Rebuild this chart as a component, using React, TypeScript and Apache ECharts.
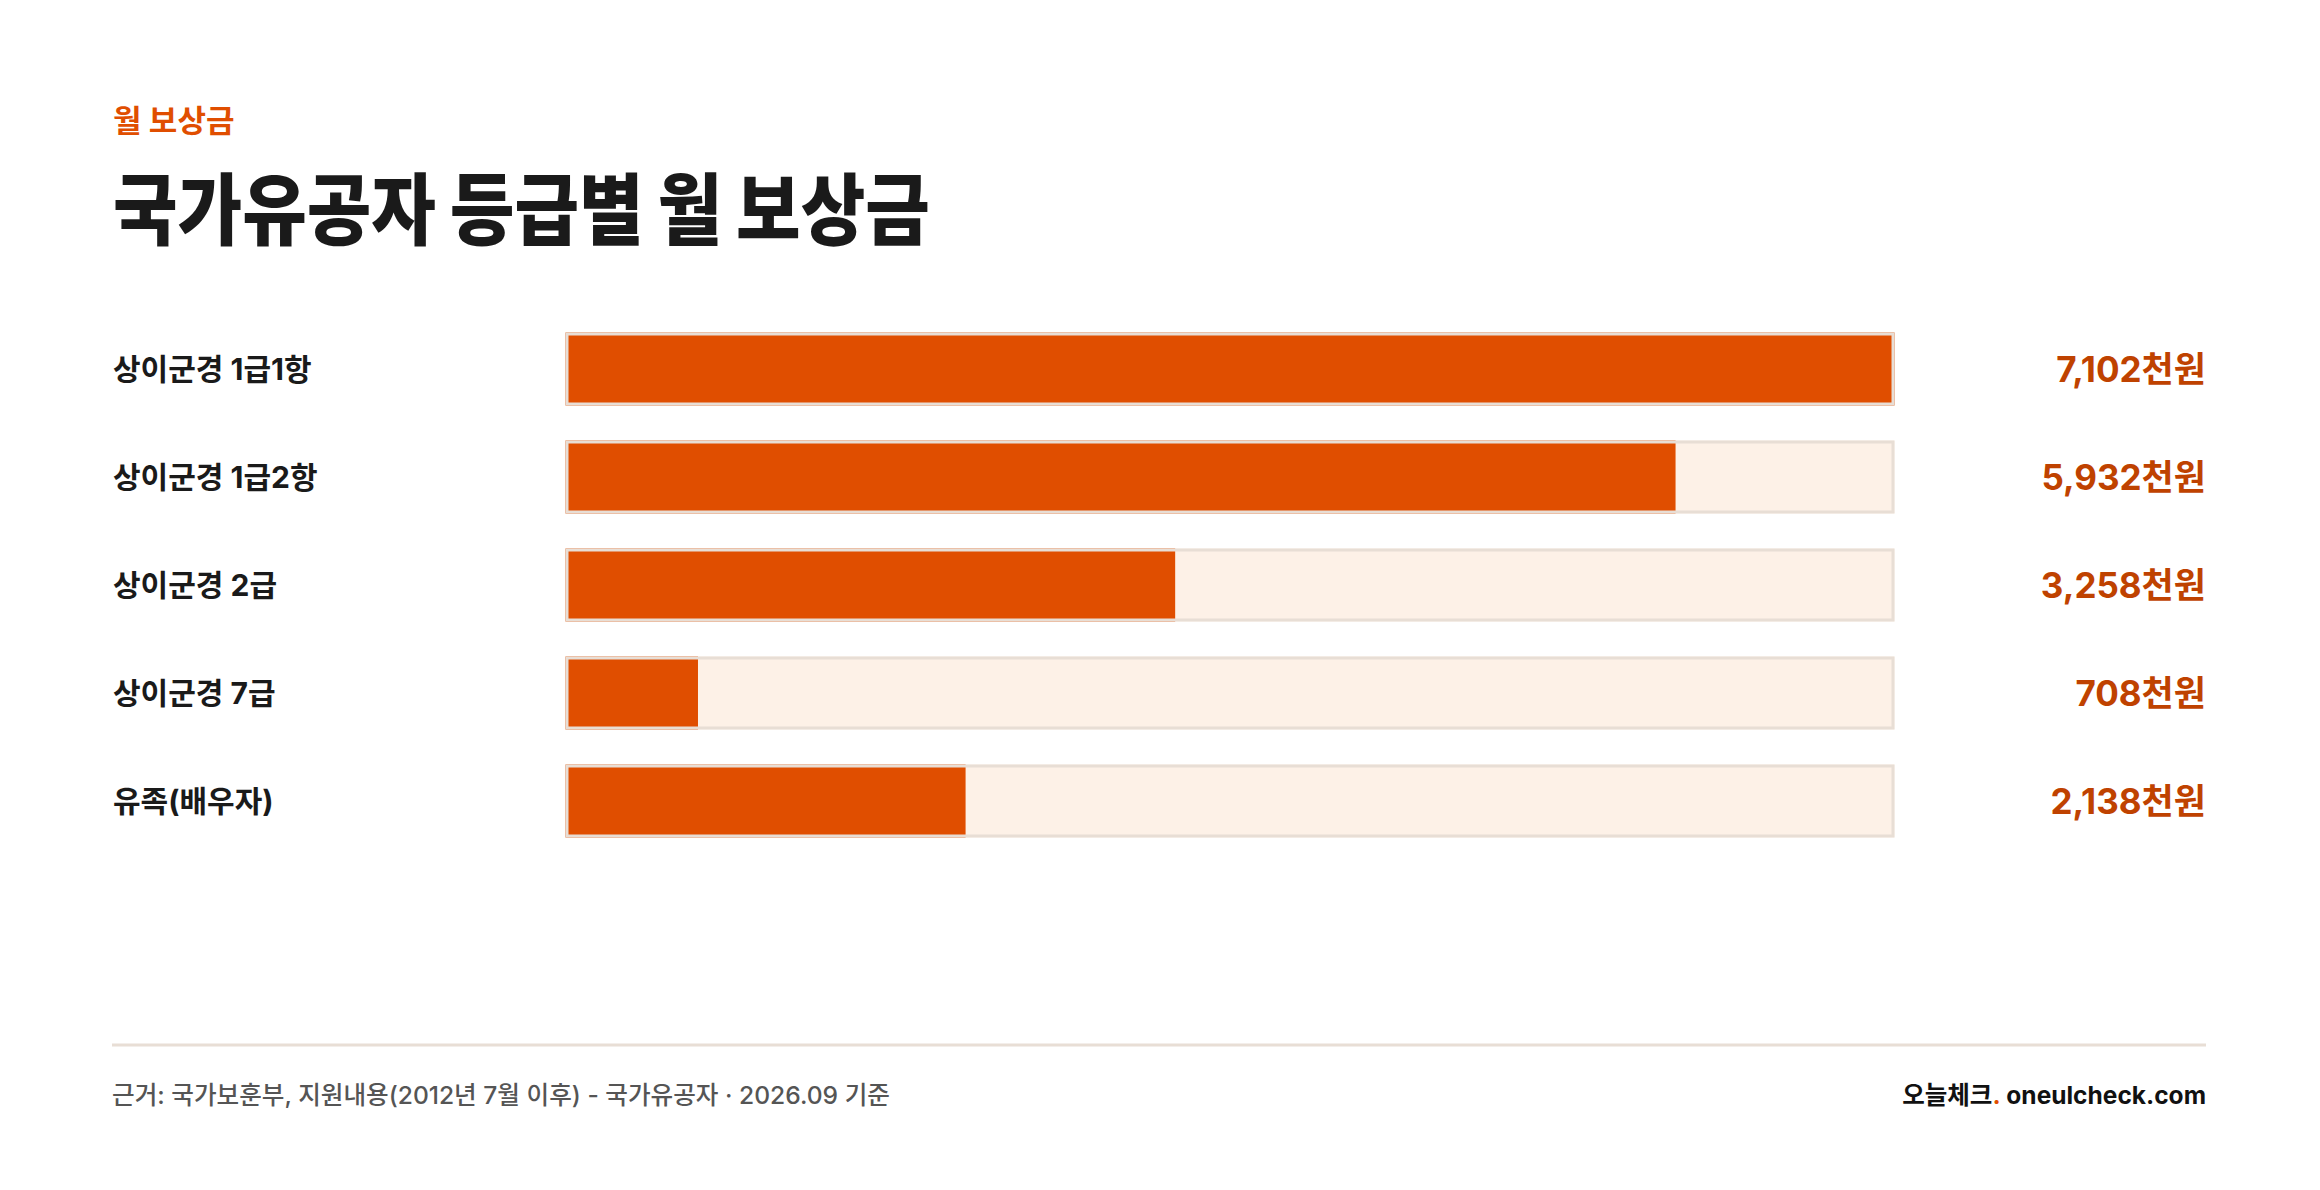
import React from "react";
import * as echarts from "echarts";

// ---------- data ----------
const categories = ["상이군경 1급1항", "상이군경 1급2항", "상이군경 2급", "상이군경 7급", "유족(배우자)"];
const amounts = [7102, 5932, 3258, 708, 2138]; // 천원
const unit = "천원";

const kicker = "월 보상금";
const title = "국가유공자 등급별 월 보상금";
const source = "근거: 국가보훈부, 지원내용(2012년 7월 이후) - 국가유공자 · 2026.09 기준";
const brandKo = "오늘체크";
const brandEn = "oneulcheck.com";

// ---------- styles ----------
const FONT = "Inter, 'Noto Sans CJK KR', sans-serif";
const ORANGE = "#e04e00";
const VALUE_COLOR = "#bf4200";
const TRACK = "#fdf1e7";
const FRAME = "#e8ded5";
const INK = "#1a1a1a";

const W = 2320;
const H = 1190;

export default function App() {
  const ref = React.useRef<HTMLDivElement>(null);

  React.useEffect(() => {
    const el = ref.current;
    if (!el) return;
    const chart = echarts.init(el, undefined, { renderer: "svg" });
    const maxV = Math.max(...amounts);
    const full = amounts.map(() => maxV);

    const option: echarts.EChartsOption = {
      animation: false,
      backgroundColor: "#ffffff",
      grid: { left: 565.5, width: 1329, top: 315, height: 540 },
      xAxis: { type: "value", min: 0, max: maxV, show: false },
      yAxis: {
        type: "category",
        data: categories,
        inverse: true,
        axisLine: { show: false },
        axisTick: { show: false },
        splitLine: { show: false },
        axisLabel: {
          align: "left",
          margin: 452.5,
          fontFamily: FONT,
          fontSize: 30,
          fontWeight: "bold",
          color: INK,
        },
      },
      series: [
        {
          type: "bar",
          data: full,
          barWidth: 73,
          barGap: "-100%",
          silent: true,
          itemStyle: { color: TRACK },
          z: 1,
        },
        {
          type: "bar",
          data: amounts,
          barWidth: 73,
          barGap: "-100%",
          itemStyle: { color: ORANGE },
          z: 2,
        },
        {
          type: "bar",
          data: full,
          barWidth: 73,
          barGap: "-100%",
          silent: true,
          itemStyle: { color: "rgba(0,0,0,0)", borderColor: FRAME, borderWidth: 3 },
          label: {
            show: true,
            position: "right",
            distance: 311.5,
            align: "right",
            verticalAlign: "middle",
            fontFamily: FONT,
            fontSize: 35,
            fontWeight: "bold",
            color: VALUE_COLOR,
            formatter: (p: any) => amounts[p.dataIndex].toLocaleString("en-US") + unit,
          },
          z: 3,
        },
      ],
      graphic: [
        {
          type: "text",
          x: 113,
          y: 120,
          style: {
            text: kicker,
            fill: ORANGE,
            font: `bold 31px ${FONT}`,
            align: "left",
            verticalAlign: "middle",
          },
        },
        {
          type: "text",
          x: 113,
          y: 211,
          scaleX: 0.9,
          style: {
            text: title,
            fill: INK,
            font: `900 78px ${FONT}`,
            align: "left",
            verticalAlign: "middle",
          },
        },
        {
          type: "line",
          shape: { x1: 112, y1: 1045, x2: 2206, y2: 1045 },
          style: { stroke: FRAME, lineWidth: 3 },
        },
        {
          type: "text",
          x: 112,
          y: 1095,
          style: {
            text: source,
            fill: "#555555",
            font: `500 24.6px ${FONT}`,
            align: "left",
            verticalAlign: "middle",
          },
        },
        {
          type: "text",
          x: 2206,
          y: 1095,
          style: {
            text: `{k|${brandKo}}{d|.}{e| ${brandEn}}`,
            align: "right",
            verticalAlign: "middle",
            rich: {
              k: { fontFamily: FONT, fontSize: 24.5, fontWeight: "bold", fill: "#111111" },
              d: { fontFamily: FONT, fontSize: 24.5, fontWeight: "bold", fill: ORANGE },
              e: { fontFamily: FONT, fontSize: 24.5, fontWeight: "bold", fill: "#111111" },
            },
          } as any,
        },
      ],
    };

    chart.setOption(option);
    return () => chart.dispose();
  }, []);

  return (
    <div
      ref={ref}
      style={{ position: "fixed", left: 0, top: 0, width: W, height: H, background: "#fff" }}
    />
  );
}
